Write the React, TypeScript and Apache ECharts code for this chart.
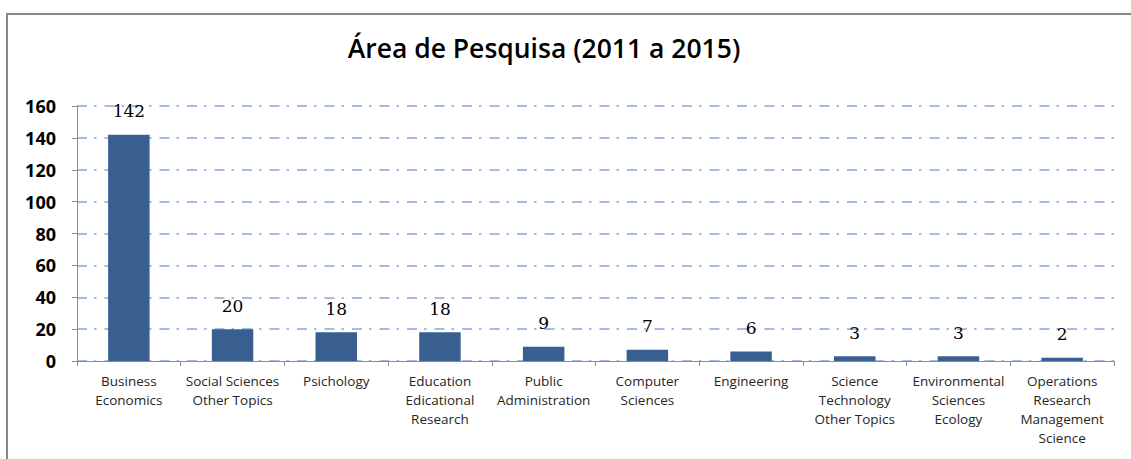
import React, { useEffect, useRef } from "react";
import * as echarts from "echarts";

const categories: string[] = [
  "Business\nEconomics",
  "Social Sciences\nOther Topics",
  "Psichology",
  "Education\nEdicational\nResearch",
  "Public\nAdministration",
  "Computer\nSciences",
  "Engineering",
  "Science\nTechnology\nOther Topics",
  "Environmental\nSciences\nEcology",
  "Operations\nResearch\nManagement\nScience",
];

const values: number[] = [142, 20, 18, 18, 9, 7, 6, 3, 3, 2];

const titleText = "Área de Pesquisa (2011 a 2015)";
const yMin = 0;
const yMax = 160;
const yInterval = 20;

export default function App() {
  const ref = useRef<HTMLDivElement>(null);

  useEffect(() => {
    document.body.style.margin = "0";
    if (!ref.current) return;
    const chart = echarts.init(ref.current, null, { renderer: "svg" });
    chart.setOption({
      animation: false,
      backgroundColor: "#ffffff",
      title: {
        text: titleText,
        left: 539,
        top: 29,
        textAlign: "center",
        textStyle: {
          fontFamily: "Open Sans",
          fontWeight: 600,
          fontSize: 26.5,
          color: "#000000",
        },
      },
      graphic: [
        {
          type: "rect",
          shape: { x: 7, y: 14, width: 1200, height: 500 },
          style: { fill: "none", stroke: "#878787", lineWidth: 2 },
          silent: true,
        },
      ],
      grid: { left: 77, right: 17, top: 106, bottom: 98 },
      xAxis: {
        type: "category",
        data: categories,
        boundaryGap: true,
        axisLine: { show: true, lineStyle: { color: "#8c8c8c", width: 1 } },
        axisTick: { show: true, length: 5, lineStyle: { color: "#8c8c8c" } },
        axisLabel: {
          interval: 0,
          margin: 10,
          fontFamily: "Open Sans",
          fontSize: 13.5,
          lineHeight: 19,
          color: "#262626",
        },
      },
      yAxis: {
        type: "value",
        min: yMin,
        max: yMax,
        interval: yInterval,
        axisLine: { show: true, lineStyle: { color: "#8c8c8c", width: 1 } },
        axisTick: { show: true, length: 5, lineStyle: { color: "#8c8c8c" } },
        axisLabel: {
          margin: 21,
          fontFamily: "Open Sans",
          fontWeight: "bold",
          fontSize: 18,
          color: "#000000",
        },
        splitLine: {
          show: true,
          lineStyle: { color: "#a3bce6", width: 2, type: [10, 7, 2.5, 8] },
        },
      },
      series: [
        {
          type: "bar",
          data: values,
          barWidth: "40%",
          itemStyle: { color: "#385f90" },
          label: {
            show: true,
            position: "top",
            distance: 15,
            fontFamily: "DejaVu Serif",
            fontSize: 17,
            color: "#000000",
          },
        },
      ],
    });
    return () => chart.dispose();
  }, []);

  return <div ref={ref} style={{ width: 1131, height: 459 }} />;
}
